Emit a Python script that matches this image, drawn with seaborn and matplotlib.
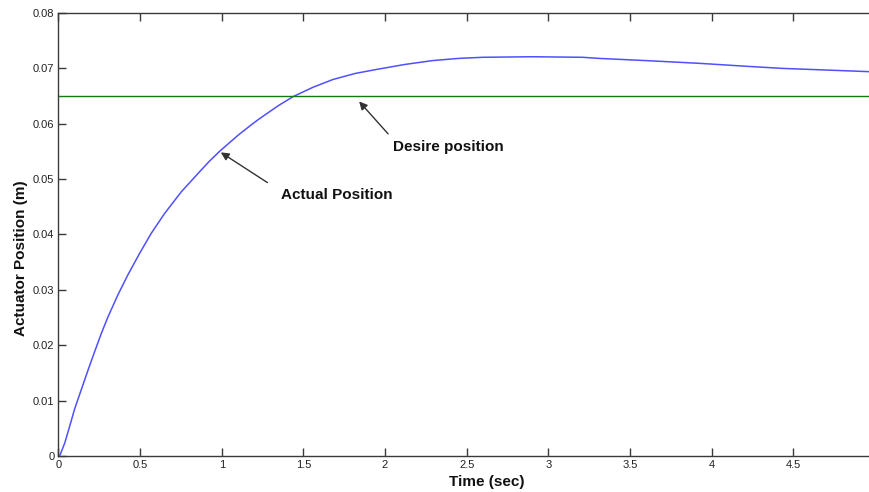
import matplotlib
matplotlib.use("Agg")
import matplotlib.pyplot as plt
import seaborn as sns
import pandas as pd

# --- Data ---
TIME = [0, 0.01, 0.038, 0.068, 0.099, 0.140, 0.181, 0.221, 0.262, 0.303, 0.364,
        0.425, 0.497, 0.568, 0.650, 0.752, 0.854, 0.920, 0.986, 1.099, 1.172,
        1.221, 1.343, 1.437, 1.560, 1.682, 1.820, 1.947, 2.120, 2.290, 2.450,
        2.600, 2.900, 3.210, 3.310, 3.600, 3.930, 4.200, 4.430, 4.700, 4.970]
ACTUAL = [0, 0.0002, 0.0023, 0.0053, 0.0085, 0.0120, 0.0155, 0.0188, 0.0221,
          0.0251, 0.0291, 0.0327, 0.0366, 0.0402, 0.0438, 0.0477, 0.0510, 0.0531,
          0.0550, 0.0579, 0.0596, 0.0607, 0.0632, 0.0649, 0.0666, 0.0680, 0.0691,
          0.0698, 0.0707, 0.0714, 0.0718, 0.0720, 0.0721, 0.0720, 0.0718, 0.0714,
          0.0709, 0.0704, 0.0700, 0.0697, 0.0694]
DESIRED = 0.065

X_TICKS = [0, 0.5, 1, 1.5, 2, 2.5, 3, 3.5, 4, 4.5]
X_TICK_LABELS = ["0", "0.5", "1", "1.5", "2", "2.5", "3", "3.5", "4", "4.5"]
Y_TICKS = [0, 0.01, 0.02, 0.03, 0.04, 0.05, 0.06, 0.07, 0.08]
Y_TICK_LABELS = ["0", "0.01", "0.02", "0.03", "0.04", "0.05", "0.06", "0.07", "0.08"]

X_LABEL = "Time (sec)"
Y_LABEL = "Actuator Position (m)"


def main():
    sns.set_theme(style="ticks")
    plt.rcParams["font.family"] = ["Liberation Sans", "DejaVu Sans"]

    df = pd.DataFrame({"t": TIME, "pos": ACTUAL})

    fig = plt.figure(figsize=(8.7, 4.92), dpi=100)
    ax = fig.add_axes([0.0672, 0.0732, 0.9328, 0.9004])

    sns.lineplot(data=df, x="t", y="pos", ax=ax, color="#5050ff", linewidth=1.1,
                 sort=False, estimator=None)
    ax.axhline(DESIRED, color="#117a11", linewidth=1.0)

    ax.set_xlim(0, 4.97)
    ax.set_ylim(0, 0.08)
    ax.set_xticks(X_TICKS)
    ax.set_xticklabels(X_TICK_LABELS)
    ax.set_yticks(Y_TICKS)
    ax.set_yticklabels(Y_TICK_LABELS)

    # MATLAB style box: inward ticks, ticks on top as well
    for side in ["left", "bottom", "top"]:
        ax.spines[side].set_color("#3a3a3a")
        ax.spines[side].set_linewidth(1.0)
    ax.spines["right"].set_visible(False)
    ax.tick_params(axis="both", direction="in", length=6, width=1.0,
                   color="#3a3a3a", labelsize=8, labelcolor="#222222", pad=3)
    ax.tick_params(axis="x", top=True)

    ax.set_xlabel(X_LABEL, fontsize=11, fontweight="bold", color="#111111")
    ax.set_ylabel(Y_LABEL, fontsize=11, fontweight="bold", color="#111111")
    ax.xaxis.set_label_coords(0.528, -0.043)
    ax.yaxis.set_label_coords(-0.038, 0.447)

    arrow = dict(arrowstyle="-|>", color="#333333", lw=1.0, mutation_scale=12)
    ax.annotate("", xy=(1.83, 0.0644), xytext=(2.03, 0.0578), arrowprops=arrow)
    ax.text(2.05, 0.0558, "Desire position", fontsize=11, fontweight="bold",
            color="#111111", va="center", ha="left")
    ax.annotate("", xy=(0.98, 0.0551), xytext=(1.294, 0.0491), arrowprops=arrow)
    ax.text(1.362, 0.0472, "Actual Position", fontsize=11, fontweight="bold",
            color="#111111", va="center", ha="left")

    fig.savefig("out.png", dpi=100)
    plt.close(fig)


if __name__ == "__main__":
    main()
